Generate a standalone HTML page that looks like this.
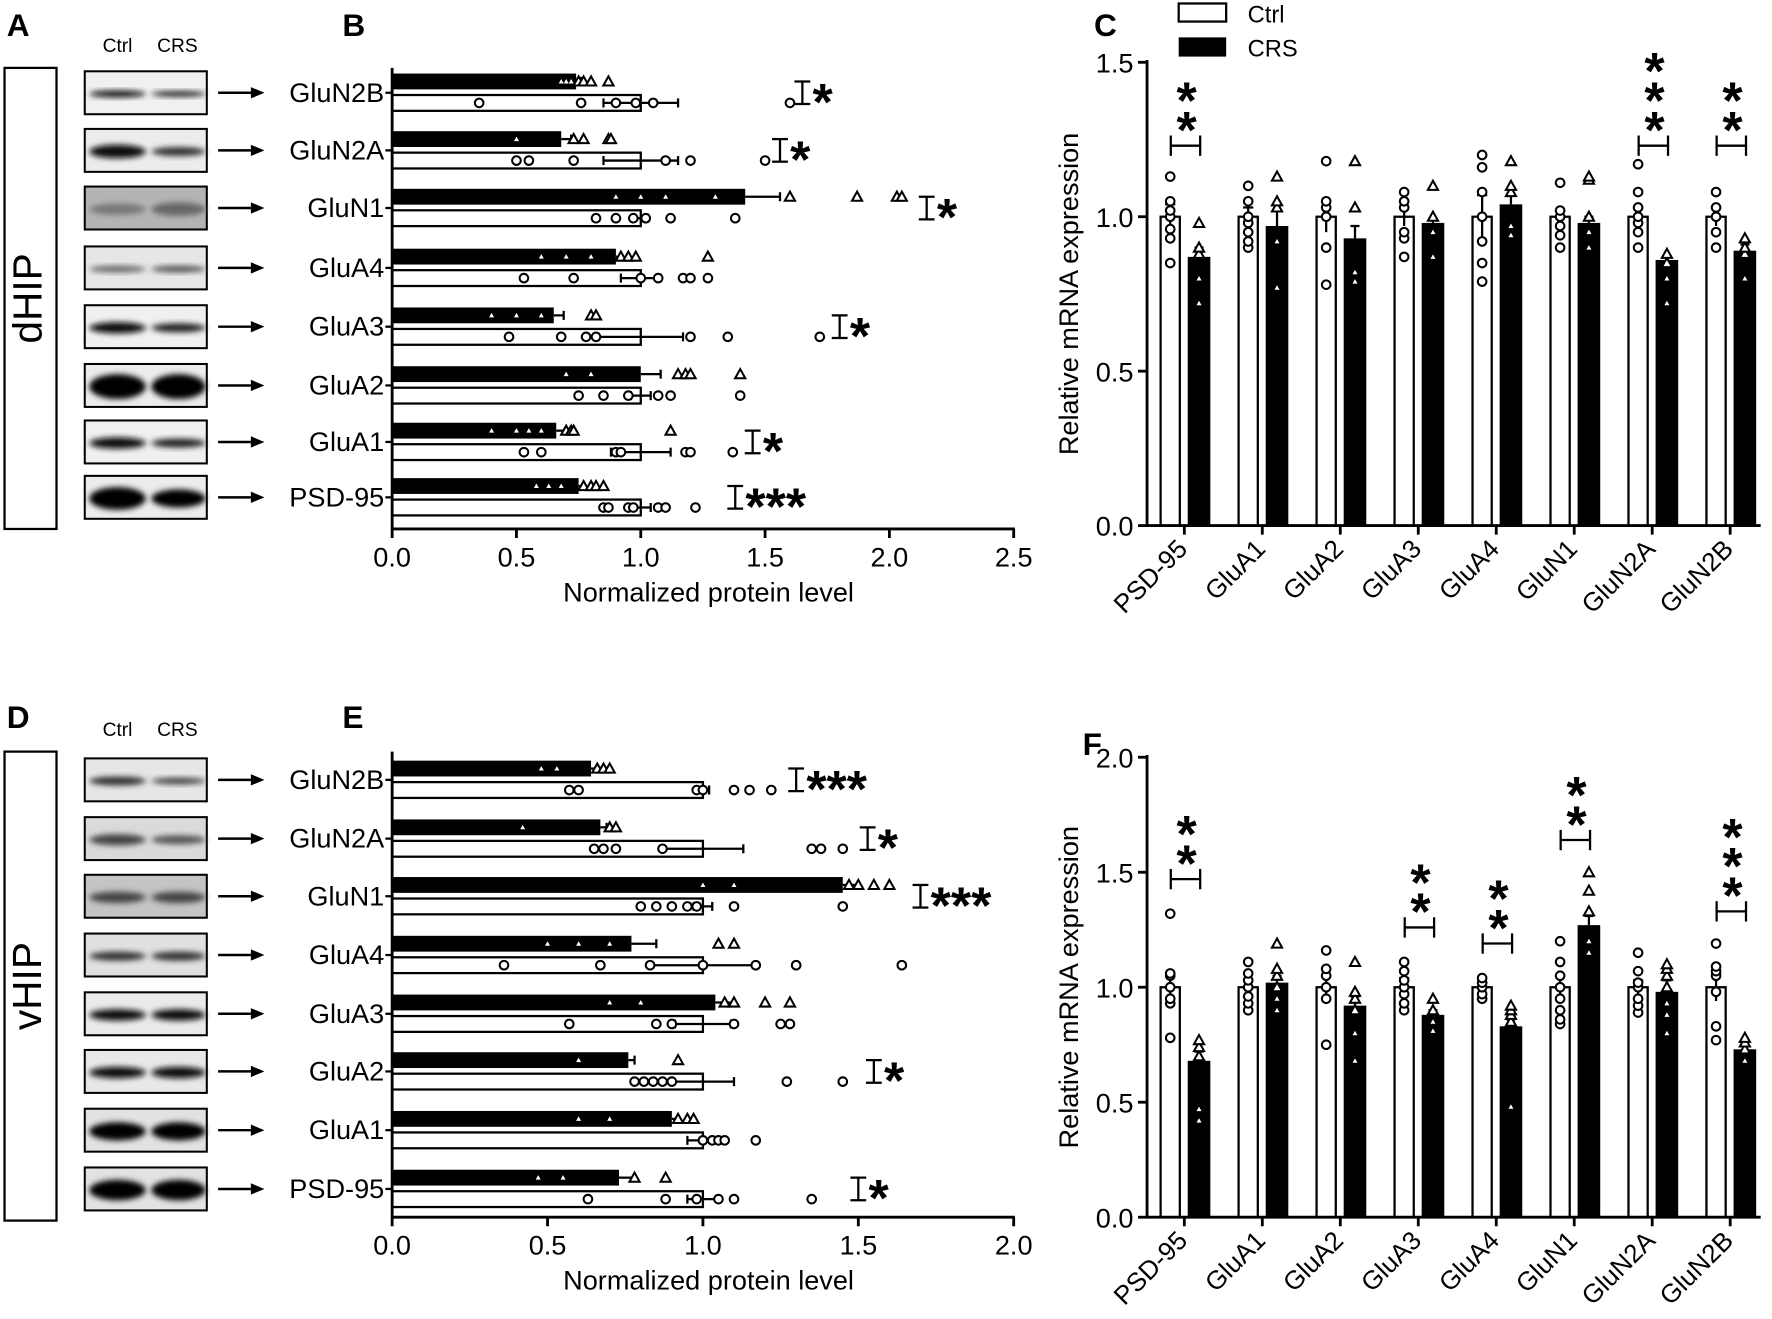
<!DOCTYPE html>
<html><head><meta charset="utf-8">
<style>
html,body{margin:0;padding:0;background:#fff;}
svg{display:block;}
text{font-family:"Liberation Sans",Arial,sans-serif;fill:#000;}
</style></head>
<body>
<svg id="s" width="1772" height="1319" viewBox="0 0 1568 1167" xmlns="http://www.w3.org/2000/svg">
<defs>
<filter id="bl" x="-20%" y="-50%" width="140%" height="200%"><feGaussianBlur stdDeviation="2.5"/></filter>
</defs>
<g id="g"></g>
</svg>
<script>
var g=document.getElementById('g');var out='';
function T(x,y,s,sz,extra){out+='<text x="'+x+'" y="'+y+'" font-size="'+sz+'" '+(extra||'')+'>'+s+'</text>';}
function L(x1,y1,x2,y2,w){out+='<line x1="'+x1+'" y1="'+y1+'" x2="'+x2+'" y2="'+y2+'" stroke="#000" stroke-width="'+(w||2)+'"/>';}
function R(x,y,w,h,f,sw){out+='<rect x="'+x+'" y="'+y+'" width="'+w+'" height="'+h+'" fill="'+f+'" stroke="#000" stroke-width="'+(sw==null?2:sw)+'"/>';}
function C(x,y){out+='<circle cx="'+x+'" cy="'+y+'" r="3.8" fill="#fff" stroke="#000" stroke-width="1.8"/>';}
function Tri(x,y,inside){var s=inside?2.2:4.5;out+='<polygon points="'+x+','+(y-s)+' '+(x-s)+','+(y+s*0.8)+' '+(x+s)+','+(y+s*0.8)+'" fill="#fff" stroke="'+(inside?'none':'#000')+'" stroke-width="1.8"/>';}
T(6,32,'A',28,'font-weight="bold"');T(303,32,'B',28,'font-weight="bold"');T(968,32,'C',28,'font-weight="bold"');
T(6,644,'D',28,'font-weight="bold"');T(303,644,'E',28,'font-weight="bold"');T(958,668,'F',28,'font-weight="bold"');

var names=['GluN2B','GluN2A','GluN1','GluA4','GluA3','GluA2','GluA1','PSD-95'];
function blots(top,centers,side,bands){
  R(4,top,46,centers[7]+28-top,'#fff',2);
  T(27,(top+centers[7]+28)/2,side,36,'text-anchor="middle" dominant-baseline="middle" transform="rotate(-90 27 '+((top+centers[7]+28)/2)+')"');
  T(104,top-14,'Ctrl',17,'text-anchor="middle"');T(157,top-14,'CRS',17,'text-anchor="middle"');
  centers.forEach(function(c,i){
    var b=bands[i];
    R(75,c-19,108,38,b[0],1.8);
    out+='<ellipse cx="104" cy="'+(c+1)+'" rx="25" ry="'+b[1]+'" fill="'+b[2]+'" filter="url(#bl)"/>';
    out+='<ellipse cx="158" cy="'+(c+1)+'" rx="24" ry="'+b[3]+'" fill="'+b[4]+'" filter="url(#bl)"/>';
    L(193,c,222,c,2.2);out+='<polygon points="222,'+(c-5)+' 234,'+c+' 222,'+(c+5)+'" fill="#000"/>';
  });
}
var cB=[82,133,184,237,289,341,391,440];
var cE=[690,742,793,845,897,948,1000,1052];
blots(60,cB,'dHIP',[['#f0f0f0',3,'#111',2.5,'#222'],['#ececec',6,'#111',4,'#333'],['#b4b4b4',5,'#777',6,'#666'],['#e6e6e6',3,'#666',3,'#555'],['#f0f0f0',5,'#111',4,'#222'],['#ececec',11,'#000',11,'#000'],['#f0f0f0',5,'#111',4,'#222'],['#ececec',10,'#000',8,'#000']]);
blots(665,cE,'vHIP',[['#e6e6e6',4,'#333',3,'#444'],['#dadada',5,'#444',4,'#555'],['#c4c4c4',5,'#444',5,'#444'],['#e0e0e0',4,'#333',4,'#333'],['#eaeaea',5,'#111',5,'#111'],['#e8e8e8',5,'#111',5,'#111'],['#e2e2e2',8,'#000',8,'#000'],['#e2e2e2',9,'#000',9,'#000']]);

function hpanel(cs,x0,sc,maxv,step,top,axY,data){
  data.forEach(function(d,i){
    var c=cs[i];
    T(340,c+8,names[i],24,'text-anchor="end"');L(341,c,347,c,2);
    var bw=d.v*sc;R(x0,c-17,bw,14,'#000',0);
    L(x0+bw,c-10,x0+(d.v+d.e)*sc,c-10,2);L(x0+(d.v+d.e)*sc,c-14,x0+(d.v+d.e)*sc,c-6,2);
    d.t.forEach(function(v){Tri(x0+v*sc,c-10,v<d.v);});
    R(x0,c+2,sc,14,'#fff',2);
    L(x0+(1-d.ce)*sc,c+9,x0+(1+d.ce)*sc,c+9,2);
    L(x0+(1-d.ce)*sc,c+5,x0+(1-d.ce)*sc,c+13,2);L(x0+(1+d.ce)*sc,c+5,x0+(1+d.ce)*sc,c+13,2);
    d.c.forEach(function(v){C(x0+v*sc,c+9);});
    if(d.s){var bx=x0+d.s[0]*sc;L(bx,c-10,bx,c+10,2);L(bx-7,c-10,bx+7,c-10,2);L(bx-7,c+10,bx+7,c+10,2);
      T(bx+9,c+24,d.s[1],46,'font-weight="bold"');}
  });
  L(x0,top,x0,axY+1,2.5);L(x0-1,axY,x0+maxv*sc+1,axY,2.5);
  for(var v=0;v<=maxv+1e-9;v+=step){var x=x0+v*sc;L(x,axY,x,axY+8,2.5);T(x,axY+33,v.toFixed(1),24,'text-anchor="middle"');}
  T(x0+maxv*sc/2+5,axY+64,'Normalized protein level',24,'text-anchor="middle"');
}
hpanel(cB,347,220,2.5,0.5,60,468,[
 {v:.74,e:.02,t:[.68,.7,.72,.75,.77,.8,.87],ce:.15,c:[.35,.76,.9,.98,1.05,1.6],s:[1.65,'*']},
 {v:.68,e:.04,t:[.5,.73,.77,.87,.88],ce:.15,c:[.5,.55,.73,1.1,1.2,1.5],s:[1.56,'*']},
 {v:1.42,e:.14,t:[.9,1.0,1.1,1.3,1.6,1.87,2.03,2.05],ce:.03,c:[.82,.9,.97,1.02,1.12,1.38],s:[2.15,'*']},
 {v:.9,e:.02,t:[.6,.7,.8,.92,.95,.98,1.27],ce:.08,c:[.53,.73,1.0,1.07,1.17,1.2,1.27],s:null},
 {v:.65,e:.04,t:[.4,.5,.6,.8,.82],ce:.17,c:[.47,.68,.78,.82,1.2,1.35,1.72],s:[1.8,'*']},
 {v:1.0,e:.08,t:[.7,.8,1.15,1.18,1.2,1.4],ce:.04,c:[.75,.85,.95,1.07,1.12,1.4],s:null},
 {v:.66,e:.04,t:[.4,.5,.55,.6,.7,.72,.73,1.12],ce:.12,c:[.53,.6,.9,.92,1.18,1.2,1.37],s:[1.45,'*']},
 {v:.75,e:.02,t:[.58,.63,.68,.77,.8,.82,.85],ce:.04,c:[.85,.87,.95,.97,1.07,1.1,1.22],s:[1.38,'***']}]);
hpanel(cE,347,275,2.0,0.5,665,1077,[
 {v:.64,e:.02,t:[.48,.53,.66,.68,.7],ce:.02,c:[.57,.6,.98,1.0,1.1,1.15,1.22],s:[1.3,'***']},
 {v:.67,e:.02,t:[.42,.7,.72],ce:.13,c:[.65,.68,.72,.87,1.35,1.38,1.45],s:[1.53,'*']},
 {v:1.45,e:.05,t:[1.0,1.1,1.47,1.5,1.55,1.6],ce:.03,c:[.8,.85,.9,.95,.98,1.1,1.45],s:[1.7,'***']},
 {v:.77,e:.08,t:[.5,.6,.7,1.05,1.1],ce:.17,c:[.36,.67,.83,1.0,1.17,1.3,1.64],s:null},
 {v:1.04,e:.06,t:[.7,.8,1.07,1.1,1.2,1.28],ce:.09,c:[.57,.85,.9,1.1,1.25,1.28],s:null},
 {v:.76,e:.02,t:[.6,.92],ce:.1,c:[.78,.81,.84,.87,.9,1.27,1.45],s:[1.55,'*']},
 {v:.9,e:.02,t:[.6,.7,.92,.95,.97],ce:.05,c:[1.0,1.03,1.05,1.07,1.17],s:null},
 {v:.73,e:.05,t:[.47,.55,.78,.88],ce:.05,c:[.63,.88,.98,1.05,1.1,1.35],s:[1.5,'*']}]);

var vn=['PSD-95','GluA1','GluA2','GluA3','GluA4','GluN1','GluN2A','GluN2B'];
function vpanel(x0,y0,sc,maxv,xEnd,data,legend){
  data.forEach(function(d,i){
    var t=1048+69*i;
    R(t-21,y0-sc,17,sc,'#fff',2);
    L(t-12.5,y0-(1-d.ce)*sc,t-12.5,y0-(1+d.ce)*sc,2);L(t-17,y0-(1+d.ce)*sc,t-8,y0-(1+d.ce)*sc,2);
    d.c.forEach(function(v){C(t-12.5,y0-v*sc);});
    R(t+3,y0-d.v*sc,20,d.v*sc,'#000',0);
    L(t+13,y0-d.v*sc,t+13,y0-(d.v+d.e)*sc,2);L(t+9,y0-(d.v+d.e)*sc,t+17,y0-(d.v+d.e)*sc,2);
    d.t.forEach(function(v){Tri(t+13,y0-v*sc,v<d.v-.02);});
    if(d.s){var by=y0-d.s[0]*sc;L(t-12,by,t+14,by,2);L(t-12,by-9,t-12,by+9,2);L(t+14,by-9,t+14,by+9,2);
      for(var k=0;k<d.s[1];k++)T(t+2,by+2-k*26,'*',46,'font-weight="bold" text-anchor="middle"');}
    L(t,y0,t,y0+8,2.5);
    T(t+4,y0+22,vn[i],23,'text-anchor="end" transform="rotate(-45 '+(t+4)+' '+(y0+22)+')"');
  });
  L(x0,y0-maxv*sc-2,x0,y0+1,2.5);L(x0-1,y0,xEnd,y0,2.5);
  for(var v=0;v<=maxv+1e-9;v+=0.5){var y=y0-v*sc;L(x0-8,y,x0,y,2.5);T(x0-12,y+9,v.toFixed(1),24,'text-anchor="end"');}
  var cy=y0-maxv*sc/2;T(954,cy,'Relative mRNA expression',24,'text-anchor="middle" transform="rotate(-90 954 '+cy+')"');
  if(legend){R(1043,3,42,16,'#fff',2);T(1104,20,'Ctrl',21);R(1043,33,42,17,'#000',0);T(1104,50,'CRS',21);}
}
vpanel(1015,465,273.3,1.5,1558,[
 {ce:.04,c:[.85,.93,.96,1.0,1.02,1.05,1.13],v:.87,e:.03,t:[.72,.8,.88,.9,.98],s:[1.23,2]},
 {ce:.03,c:[.9,.92,.95,.98,1.0,1.05,1.1],v:.97,e:.05,t:[.77,.92,1.03,1.05,1.13],s:null},
 {ce:.05,c:[.78,.9,1.0,1.03,1.05,1.18],v:.93,e:.04,t:[.79,.82,1.03,1.18],s:null},
 {ce:.03,c:[.87,.93,.95,1.03,1.05,1.08],v:.98,e:.01,t:[.87,.95,1.0,1.1],s:null},
 {ce:.07,c:[.79,.85,.92,1.0,1.08,1.16,1.2],v:1.04,e:.03,t:[.94,.97,1.08,1.1,1.18],s:null},
 {ce:.02,c:[.9,.94,.97,1.0,1.02,1.11],v:.98,e:.02,t:[.9,.95,1.0,1.12,1.13],s:null},
 {ce:.03,c:[.9,.95,.98,1.0,1.03,1.08,1.17],v:.86,e:.01,t:[.72,.8,.85,.88],s:[1.23,3]},
 {ce:.03,c:[.9,.95,1.0,1.03,1.08],v:.89,e:.02,t:[.8,.88,.9,.93],s:[1.23,2]}],true);
vpanel(1015,1077,203.5,2.0,1558,[
 {ce:.06,c:[.78,.93,.95,1.0,1.05,1.06,1.32],v:.68,e:.04,t:[.42,.47,.7,.74,.77],s:[1.47,2]},
 {ce:.03,c:[.9,.93,.96,1.0,1.03,1.06,1.11],v:1.02,e:.03,t:[.9,.95,1.0,1.05,1.08,1.19],s:null},
 {ce:.05,c:[.75,.95,1.0,1.05,1.08,1.16],v:.92,e:.04,t:[.68,.8,.9,.95,.98,1.11],s:null},
 {ce:.04,c:[.9,.93,.97,1.0,1.03,1.07,1.11],v:.88,e:.02,t:[.81,.85,.9,.95],s:[1.26,2]},
 {ce:.02,c:[.95,.97,1.0,1.02,1.04],v:.83,e:.03,t:[.48,.85,.88,.9,.92],s:[1.19,2]},
 {ce:.05,c:[.84,.86,.9,.95,1.0,1.05,1.11,1.2],v:1.27,e:.04,t:[1.15,1.2,1.33,1.42,1.5],s:[1.64,2]},
 {ce:.03,c:[.89,.92,.95,1.0,1.02,1.07,1.15],v:.98,e:.05,t:[.8,.88,.93,1.0,1.05,1.08,1.1],s:null},
 {ce:.06,c:[.77,.83,.98,1.05,1.07,1.09,1.19],v:.73,e:.02,t:[.68,.73,.76,.78],s:[1.33,3]}],false);
g.innerHTML=out;
</script>
</body></html>
